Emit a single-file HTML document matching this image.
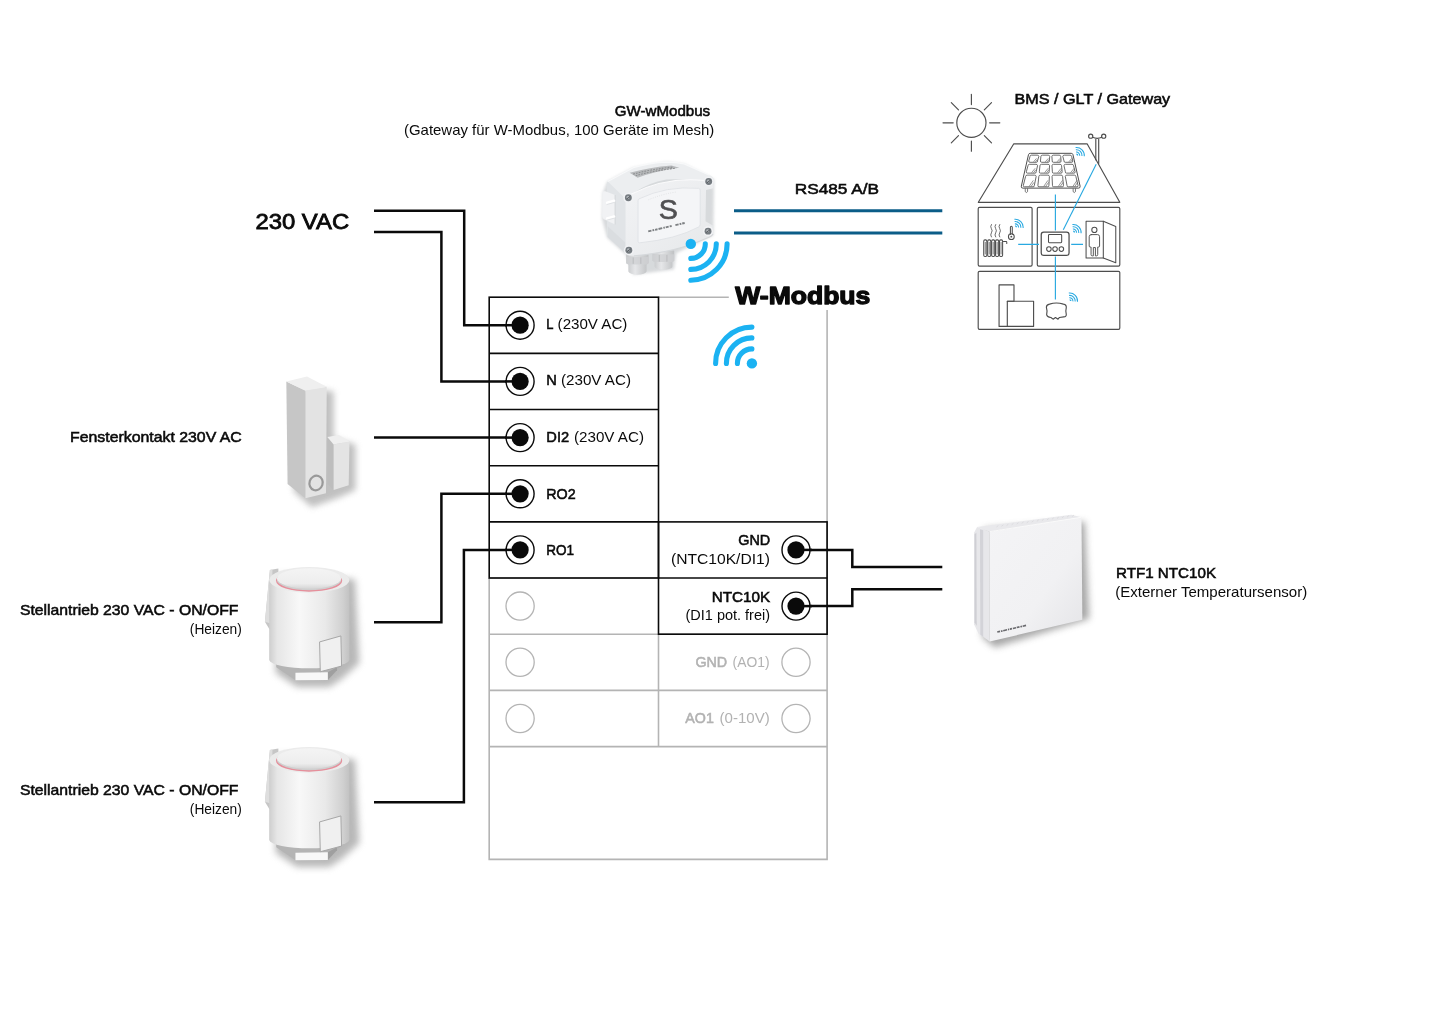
<!DOCTYPE html>
<html lang="de">
<head>
<meta charset="utf-8">
<title>W-Modbus Anschlussplan</title>
<style>
html,body{margin:0;padding:0;background:#fff;}
body{width:1445px;height:1021px;overflow:hidden;}
svg{display:block;will-change:transform;}
text{font-family:"Liberation Sans",sans-serif;fill:#0a0a0a;}
.b{font-weight:normal;stroke:#0a0a0a;stroke-width:0.55px;}
.b.g{stroke:#b2b2b2;}
.g{fill:#b2b2b2;}
</style>
</head>
<body>
<svg width="1445" height="1021" viewBox="0 0 1445 1021">
<defs>
<filter id="sh" x="-30%" y="-30%" width="170%" height="170%"><feGaussianBlur stdDeviation="4"/></filter>
<filter id="sh2" x="-30%" y="-30%" width="170%" height="170%"><feGaussianBlur stdDeviation="2.2"/></filter>
<filter id="shk" x="-40%" y="-40%" width="180%" height="180%"><feGaussianBlur stdDeviation="22"/></filter>
<filter id="sha" x="-40%" y="-40%" width="180%" height="180%"><feGaussianBlur stdDeviation="26"/></filter>
<filter id="shs" x="-40%" y="-40%" width="180%" height="180%"><feGaussianBlur stdDeviation="20"/></filter>
<filter id="shg" x="-40%" y="-40%" width="180%" height="180%"><feGaussianBlur stdDeviation="14"/></filter>
<filter id="bl1" x="-10%" y="-10%" width="120%" height="120%"><feGaussianBlur stdDeviation="0.5"/></filter>
<linearGradient id="cyl" x1="0" y1="0" x2="1" y2="0">
<stop offset="0" stop-color="#cecece"/><stop offset="0.1" stop-color="#e6e6e6"/><stop offset="0.38" stop-color="#f8f8f8"/><stop offset="0.7" stop-color="#e9e9e9"/><stop offset="0.92" stop-color="#d0d0d0"/><stop offset="1" stop-color="#c2c2c2"/>
</linearGradient>
<linearGradient id="cap" x1="0" y1="0" x2="0" y2="1">
<stop offset="0" stop-color="#f4f4f4"/><stop offset="0.75" stop-color="#ededed"/><stop offset="1" stop-color="#d6d6d6"/>
</linearGradient>
<linearGradient id="sface" x1="0" y1="0" x2="1" y2="1">
<stop offset="0" stop-color="#f4f4f6"/><stop offset="0.6" stop-color="#f1f1f3"/><stop offset="1" stop-color="#e4e4e7"/>
</linearGradient>
<linearGradient id="gwface" x1="0" y1="0" x2="1" y2="1">
<stop offset="0" stop-color="#f2f3f5"/><stop offset="1" stop-color="#e6e8ea"/>
</linearGradient>
<linearGradient id="gland" x1="0" y1="0" x2="1" y2="0">
<stop offset="0" stop-color="#c4c6c8"/><stop offset="0.4" stop-color="#e6e7e9"/><stop offset="1" stop-color="#bfc1c3"/>
</linearGradient>
</defs>
<rect width="1445" height="1021" fill="#ffffff"/>

<g fill="none" stroke="#b4b4b4" stroke-width="1.6">
<path d="M658.5 297.2 H728.8"/>
<path d="M827.1 310 V859.4 H489.2 V578.05"/>
<path d="M489.2 634.2 H827.1"/>
<path d="M489.2 690.4 H827.1"/>
<path d="M489.2 746.6 H827.1"/>
<path d="M658.5 690.4 V746.6"/>
<path d="M658.5 634.2 V690.4"/>
<path d="M489.2 578.0 H658.5"/>
</g>
<g fill="#fff" stroke="#b4b4b4" stroke-width="1.3">
<circle cx="520.1" cy="606.1" r="14.1"/>
<circle cx="520.1" cy="662.3" r="14.1"/>
<circle cx="520.1" cy="718.5" r="14.1"/>
<circle cx="796" cy="662.3" r="14.1"/>
<circle cx="796" cy="718.5" r="14.1"/>
</g>
<g fill="none" stroke="#0a0a0a" stroke-width="1.6">
<rect x="489.2" y="297.2" width="169.3" height="280.8"/>
<path d="M489.2 353.4 H658.5"/>
<path d="M489.2 409.5 H658.5"/>
<path d="M489.2 465.7 H658.5"/>
<path d="M489.2 521.9 H658.5"/>
<rect x="658.5" y="521.9" width="168.6" height="112.3"/>
<path d="M658.5 578.0 H827.1"/>
</g>
<g fill="none" stroke="#0a0a0a" stroke-width="2.5" stroke-linejoin="miter">
<path d="M374 210.7 H464.2 V325.2 H520"/>
<path d="M374 232 H441.4 V381.4 H520"/>
<path d="M374 437.6 H520"/>
<path d="M374 622.3 H441.4 V493.8 H520"/>
<path d="M374 802.3 H463.9 V549.9 H520"/>
<path d="M796 549.9 H852.3 V567 H942.3"/>
<path d="M796 606.1 H852.3 V589.2 H942.3"/>
</g>
<circle cx="520.1" cy="325.2" r="14" fill="#fff" stroke="#0a0a0a" stroke-width="1.4"/>
<path d="M505 325.2 H520" stroke="#0a0a0a" stroke-width="2.5"/>
<circle cx="520.1" cy="325.2" r="8.6" fill="#0a0a0a"/>
<circle cx="520.1" cy="381.4" r="14" fill="#fff" stroke="#0a0a0a" stroke-width="1.4"/>
<path d="M505 381.4 H520" stroke="#0a0a0a" stroke-width="2.5"/>
<circle cx="520.1" cy="381.4" r="8.6" fill="#0a0a0a"/>
<circle cx="520.1" cy="437.6" r="14" fill="#fff" stroke="#0a0a0a" stroke-width="1.4"/>
<path d="M505 437.6 H520" stroke="#0a0a0a" stroke-width="2.5"/>
<circle cx="520.1" cy="437.6" r="8.6" fill="#0a0a0a"/>
<circle cx="520.1" cy="493.8" r="14" fill="#fff" stroke="#0a0a0a" stroke-width="1.4"/>
<path d="M505 493.8 H520" stroke="#0a0a0a" stroke-width="2.5"/>
<circle cx="520.1" cy="493.8" r="8.6" fill="#0a0a0a"/>
<circle cx="520.1" cy="549.9" r="14" fill="#fff" stroke="#0a0a0a" stroke-width="1.4"/>
<path d="M505 549.9 H520" stroke="#0a0a0a" stroke-width="2.5"/>
<circle cx="520.1" cy="549.9" r="8.6" fill="#0a0a0a"/>
<circle cx="796" cy="549.9" r="14" fill="#fff" stroke="#0a0a0a" stroke-width="1.4"/>
<path d="M796 549.9 H812" stroke="#0a0a0a" stroke-width="2.5"/>
<circle cx="796" cy="549.9" r="8.6" fill="#0a0a0a"/>
<circle cx="796" cy="606.1" r="14" fill="#fff" stroke="#0a0a0a" stroke-width="1.4"/>
<path d="M796 606.1 H812" stroke="#0a0a0a" stroke-width="2.5"/>
<circle cx="796" cy="606.1" r="8.6" fill="#0a0a0a"/>
<text x="546.3" y="329.2" font-size="15" class="b" textLength="7.2" lengthAdjust="spacingAndGlyphs">L</text>
<text x="557.6" y="329.2" font-size="15" textLength="69.8" lengthAdjust="spacingAndGlyphs">(230V AC)</text>
<text x="546.3" y="385.4" font-size="15" class="b" textLength="10.6" lengthAdjust="spacingAndGlyphs">N</text>
<text x="561" y="385.4" font-size="15" textLength="70" lengthAdjust="spacingAndGlyphs">(230V AC)</text>
<text x="546.3" y="441.6" font-size="15" class="b" textLength="22.8" lengthAdjust="spacingAndGlyphs">DI2</text>
<text x="574" y="441.6" font-size="15" textLength="70" lengthAdjust="spacingAndGlyphs">(230V AC)</text>
<text x="546.3" y="498.8" font-size="15" class="b" textLength="29.4" lengthAdjust="spacingAndGlyphs">RO2</text>
<text x="546.3" y="554.9" font-size="15" class="b" textLength="27.8" lengthAdjust="spacingAndGlyphs">RO1</text>
<text x="770.2" y="544.6" font-size="15" class="b" text-anchor="end" textLength="32" lengthAdjust="spacingAndGlyphs">GND</text>
<text x="770" y="564.2" font-size="15" text-anchor="end" textLength="99" lengthAdjust="spacingAndGlyphs">(NTC10K/DI1)</text>
<text x="770.2" y="601.5" font-size="15" class="b" text-anchor="end" textLength="58.5" lengthAdjust="spacingAndGlyphs">NTC10K</text>
<text x="770" y="620" font-size="15" text-anchor="end" textLength="84.5" lengthAdjust="spacingAndGlyphs">(DI1 pot. frei)</text>
<text x="695.4" y="667.2" font-size="15" class="b g" textLength="31.8" lengthAdjust="spacingAndGlyphs">GND</text>
<text x="732.6" y="667.2" font-size="15" class="g" textLength="37" lengthAdjust="spacingAndGlyphs">(AO1)</text>
<text x="685.3" y="723.2" font-size="15" class="b g" textLength="28.5" lengthAdjust="spacingAndGlyphs">AO1</text>
<text x="719.5" y="723.2" font-size="15" class="g" textLength="50.2" lengthAdjust="spacingAndGlyphs">(0-10V)</text>
<text x="255.4" y="228.7" font-size="21.6" class="b" textLength="93.8" lengthAdjust="spacingAndGlyphs" style="stroke-width:0.8px">230 VAC</text>
<text x="70" y="442" font-size="15" class="b" textLength="171.8" lengthAdjust="spacingAndGlyphs">Fensterkontakt 230V AC</text>
<text x="19.9" y="615.1" font-size="15" class="b" textLength="218.5" lengthAdjust="spacingAndGlyphs">Stellantrieb 230 VAC - ON/OFF</text>
<text x="189.8" y="634.2" font-size="15" textLength="52" lengthAdjust="spacingAndGlyphs">(Heizen)</text>
<text x="19.9" y="795.1" font-size="15" class="b" textLength="218.5" lengthAdjust="spacingAndGlyphs">Stellantrieb 230 VAC - ON/OFF</text>
<text x="189.8" y="814.2" font-size="15" textLength="52" lengthAdjust="spacingAndGlyphs">(Heizen)</text>
<text x="614.7" y="116.3" font-size="15" class="b" textLength="95.5" lengthAdjust="spacingAndGlyphs">GW-wModbus</text>
<text x="404" y="135.3" font-size="15" textLength="310.3" lengthAdjust="spacingAndGlyphs">(Gateway für W-Modbus, 100 Geräte im Mesh)</text>
<text x="794.7" y="194.4" font-size="15" class="b" textLength="84.4" lengthAdjust="spacingAndGlyphs">RS485 A/B</text>
<text x="1014.6" y="104.3" font-size="15" class="b" textLength="155.6" lengthAdjust="spacingAndGlyphs">BMS / GLT / Gateway</text>
<text x="1116" y="577.6" font-size="15" class="b" textLength="100" lengthAdjust="spacingAndGlyphs">RTF1 NTC10K</text>
<text x="1115.2" y="596.5" font-size="15" textLength="192" lengthAdjust="spacingAndGlyphs">(Externer Temperatursensor)</text>
<text x="735.3" y="303.6" font-size="24.2" textLength="135" lengthAdjust="spacingAndGlyphs" style="font-weight:bold;stroke:#0a0a0a;stroke-width:1.3px;stroke-linejoin:round">W-Modbus</text>
<g stroke="#0b5d88" stroke-width="2.9" fill="none"><path d="M734 210.8 H942.3"/><path d="M734 233 H942.3"/></g>
<g transform="translate(260 360) scale(0.15667)">
<g filter="url(#shk)" fill="#9a9a9a" opacity="0.62">
<path d="M215 180 L470 200 L470 500 L610 540 L610 830 L500 880 L330 940 L215 840 Z"/>
</g>
<path d="M168 138 L290 196 L290 882 L176 792 Z" fill="#c6c6c6"/>
<path d="M290 196 L426 170 L421 850 L290 882 Z" fill="#e3e3e3"/>
<path d="M168 138 L300 106 L426 170 L290 196 Z" fill="#efefef"/>
<path d="M430 492 L470 540 L470 830 L430 792 Z" fill="#bdbdbd"/>
<path d="M470 540 L571 520 L566 800 L470 830 Z" fill="#e4e4e4"/>
<path d="M430 492 L505 478 L571 520 L470 540 Z" fill="#efefef"/>
<ellipse cx="358" cy="785" rx="42" ry="47" transform="rotate(18 358 785)" fill="none" stroke="#999" stroke-width="14"/>
</g>
<g transform="translate(250 555) scale(0.14201)">
<g filter="url(#sha)" fill="#8c8c8c" opacity="0.62">
<path d="M200 140 L740 170 L770 760 L650 870 L560 930 L330 930 L180 830 Z"/>
</g>
<path d="M140 105 L200 95 L200 560 L135 520 L105 470 Z" fill="#c6c6c6"/>
<path d="M140 105 L158 100 L152 485 L105 470 Z" fill="#dedede"/>
<path d="M185 760 L660 760 L612 812 L548 880 L320 882 L185 790 Z" fill="#b4b4b4"/>
<path d="M548 826 L612 790 L612 812 L548 880 Z" fill="#9f9f9f"/>
<path d="M320 830 L548 826 L548 880 L320 882 Z" fill="#f8f8f8"/>
<path d="M135 175 A283 90 0 0 1 700 175 L700 740 A283 62 0 0 1 135 740 Z" fill="url(#cyl)"/>
<ellipse cx="418" cy="175" rx="283" ry="90" fill="#ebebeb"/>
<ellipse cx="416" cy="181" rx="233" ry="77" fill="#e68f9b"/>
<ellipse cx="416" cy="174" rx="227" ry="75" fill="#cfcfcf"/>
<ellipse cx="416" cy="165" rx="226" ry="72" fill="url(#cap)"/>
<path d="M490 612 L640 570 L645 782 L495 822 Z" fill="#f0f0f0" stroke="#a6a6a6" stroke-width="7" stroke-linejoin="round"/>
</g>
<g transform="translate(250 735) scale(0.14201)">
<g filter="url(#sha)" fill="#8c8c8c" opacity="0.62">
<path d="M200 140 L740 170 L770 760 L650 870 L560 930 L330 930 L180 830 Z"/>
</g>
<path d="M140 105 L200 95 L200 560 L135 520 L105 470 Z" fill="#c6c6c6"/>
<path d="M140 105 L158 100 L152 485 L105 470 Z" fill="#dedede"/>
<path d="M185 760 L660 760 L612 812 L548 880 L320 882 L185 790 Z" fill="#b4b4b4"/>
<path d="M548 826 L612 790 L612 812 L548 880 Z" fill="#9f9f9f"/>
<path d="M320 830 L548 826 L548 880 L320 882 Z" fill="#f8f8f8"/>
<path d="M135 175 A283 90 0 0 1 700 175 L700 740 A283 62 0 0 1 135 740 Z" fill="url(#cyl)"/>
<ellipse cx="418" cy="175" rx="283" ry="90" fill="#ebebeb"/>
<ellipse cx="416" cy="181" rx="233" ry="77" fill="#e68f9b"/>
<ellipse cx="416" cy="174" rx="227" ry="75" fill="#cfcfcf"/>
<ellipse cx="416" cy="165" rx="226" ry="72" fill="url(#cap)"/>
<path d="M490 612 L640 570 L645 782 L495 822 Z" fill="#f0f0f0" stroke="#a6a6a6" stroke-width="7" stroke-linejoin="round"/>
</g>
<g transform="translate(840 500) scale(0.17992)">
<g filter="url(#shs)" fill="#8a8a8a" opacity="0.75">
<path d="M800 160 L1360 120 L1385 660 L860 820 L790 760 Z"/>
</g>
<path d="M745 182 L762 150 L832 176 L832 787 L770 742 L745 690 Z" fill="#e7e7ea"/>
<path d="M778 162 L796 168 L796 762 L780 748 Z" fill="#d3d3d8"/>
<path d="M748 190 L758 182 L760 700 L748 680 Z" fill="#cfcfd4"/>
<path d="M762 150 L1285 82 L1342 96 L832 176 Z" fill="#e9e9ec"/>
<path d="M832 176 L1342 96 L1347 665 L832 787 Z" fill="url(#sface)"/>
<path d="M832 176 L1342 96" stroke="#fafafa" stroke-width="5" fill="none"/>
<g stroke="#d6d6da" stroke-width="4">
<path d="M870 150 l10 -8"/>
<path d="M898 146 l10 -8"/>
<path d="M926 142 l10 -8"/>
<path d="M954 138 l10 -8"/>
<path d="M982 134 l10 -8"/>
<path d="M1010 130 l10 -8"/>
<path d="M1038 127 l10 -8"/>
<path d="M1066 123 l10 -8"/>
<path d="M1094 119 l10 -8"/>
<path d="M1122 115 l10 -8"/>
<path d="M1150 111 l10 -8"/>
<path d="M1178 107 l10 -8"/>
<path d="M1206 103 l10 -8"/>
<path d="M1234 99 l10 -8"/>
<path d="M1262 95 l10 -8"/>
<path d="M1290 92 l10 -8"/>
</g>
<path d="M874 734 L1034 697" fill="none" stroke="#6a6a6e" stroke-width="9" stroke-dasharray="16 5 9 4 22 5 7 4 12 5 18 4"/>
</g>
<g transform="translate(595 155) scale(0.12732)">
<g filter="url(#shg)" fill="#b8bcc0" opacity="0.55">
<path d="M60 300 L95 210 L300 100 L560 55 L700 70 L935 190 L930 630 L640 770 L620 900 L300 940 L240 780 L95 650 L55 500 Z"/>
</g>
<path d="M245 770 L420 770 L420 850 L405 860 L405 915 A72 28 0 0 1 262 915 L262 860 L245 850 Z" fill="url(#gland)"/>
<path d="M245 800 H420 V850 L405 860 H262 L245 850 Z" fill="#cfd1d3" opacity="0.8"/>
<path d="M300 805 V855 M360 805 V855" stroke="#b4b6b8" stroke-width="6"/>
<path d="M452 750 L622 750 L622 830 L608 840 L608 875 A70 26 0 0 1 468 875 L468 840 L452 830 Z" fill="url(#gland)"/>
<path d="M452 780 H622 V830 L608 840 H468 L452 830 Z" fill="#cfd1d3" opacity="0.8"/>
<path d="M505 785 V838 M565 785 V838" stroke="#b4b6b8" stroke-width="6"/>
<path d="M92 230 Q92 212 110 204 L270 330 L268 770 L240 772 L100 645 Q94 640 94 625 Z" fill="#e1e4e7"/>
<path d="M100 560 L240 690 L240 772 L100 645 Z" fill="#dadde0"/>
<path d="M58 295 Q60 280 80 285 L158 315 L158 545 L70 505 Q56 498 56 480 Z" fill="#f1f2f4"/>
<path d="M158 315 L158 545" stroke="#d3d6d9" stroke-width="8"/>
<path d="M95 375 L150 360 M95 498 L150 483" stroke="#ffffff" stroke-width="20" stroke-linecap="round"/>
<path d="M95 388 L150 373 M95 511 L150 496" stroke="#d4d7da" stroke-width="5" stroke-linecap="round"/>
<path d="M100 208 L300 100 Q430 60 560 55 Q640 55 700 70 L900 158 Q935 175 935 200 L860 215 Q700 185 560 192 Q420 215 300 300 L235 340 Z" fill="#eceef0"/>
<path d="M100 208 L300 100 Q430 60 560 55 Q640 55 700 70 L900 158" fill="none" stroke="#f8f9fa" stroke-width="10"/>
<path d="M272 140 Q430 95 600 82 L662 100 Q480 125 335 178 Z" fill="#b9bbbd"/>
<path d="M300 150 Q440 112 610 95 M320 162 Q450 125 630 104" fill="none" stroke="#8e9092" stroke-width="9" stroke-dasharray="14 9"/>
<path d="M240 345 Q250 320 300 300 Q560 170 860 200 Q930 200 932 240 L930 262 L872 275 L868 520 L928 555 L926 620 Q920 640 880 652 Q640 765 305 792 Q250 795 240 760 Z" fill="url(#gwface)"/>
<path d="M240 345 Q250 320 300 300 Q560 170 860 200" fill="none" stroke="#fbfbfc" stroke-width="8"/>
<path d="M345 345 Q560 240 815 262 Q826 264 826 276 L826 545 Q826 560 812 566 Q640 660 350 690 Q338 690 338 678 L338 360 Q338 350 345 345 Z" fill="#f4f5f7" stroke="#dde0e3" stroke-width="6"/>
<path d="M305 792 Q640 765 880 652 Q920 640 926 620" fill="none" stroke="#d5d8db" stroke-width="10"/>
<circle cx="262" cy="336" r="40" fill="#f1f2f4"/>
<circle cx="262" cy="336" r="27" fill="#757b80"/>
<circle cx="259" cy="333" r="12" fill="#aeb3b7"/>
<path d="M248 346 L276 326" stroke="#4c5155" stroke-width="7"/>
<circle cx="893" cy="208" r="40" fill="#f1f2f4"/>
<circle cx="893" cy="208" r="27" fill="#757b80"/>
<circle cx="890" cy="205" r="12" fill="#aeb3b7"/>
<path d="M879 218 L907 198" stroke="#4c5155" stroke-width="7"/>
<circle cx="888" cy="598" r="40" fill="#f1f2f4"/>
<circle cx="888" cy="598" r="27" fill="#757b80"/>
<circle cx="885" cy="595" r="12" fill="#aeb3b7"/>
<path d="M874 608 L902 588" stroke="#4c5155" stroke-width="7"/>
<circle cx="266" cy="748" r="40" fill="#f1f2f4"/>
<circle cx="266" cy="748" r="27" fill="#757b80"/>
<circle cx="263" cy="745" r="12" fill="#aeb3b7"/>
<path d="M252 758 L280 738" stroke="#4c5155" stroke-width="7"/>
<path d="M420 352 Q530 305 645 290" fill="none" stroke="#cfd2d5" stroke-width="5" stroke-dasharray="6 12"/>
<text x="575" y="503" font-size="222" text-anchor="middle" style="fill:#505052;stroke:#505052;stroke-width:5px" textLength="150" lengthAdjust="spacingAndGlyphs">S</text>
<path d="M418 600 L708 533" fill="none" stroke="#7d8083" stroke-width="15" stroke-dasharray="26 8 14 7 20 8 30 9 12 7 24 8 16 30"/>
</g>
<g transform="translate(690.8 243.9) rotate(0)" fill="none" stroke="#1bb2f2" stroke-width="5.1" stroke-linecap="round">
<circle r="5.2" fill="#1bb2f2" stroke="none"/>
<path d="M14.5 0 A14.5 14.5 0 0 1 0 14.5"/>
<path d="M25.5 0 A25.5 25.5 0 0 1 0 25.5"/>
<path d="M36.3 0 A36.3 36.3 0 0 1 0 36.3"/>
</g>
<g transform="translate(751.9 363.4) rotate(180)" fill="none" stroke="#1bb2f2" stroke-width="5.1" stroke-linecap="round">
<circle r="5.2" fill="#1bb2f2" stroke="none"/>
<path d="M14.5 0 A14.5 14.5 0 0 1 0 14.5"/>
<path d="M25.5 0 A25.5 25.5 0 0 1 0 25.5"/>
<path d="M36.3 0 A36.3 36.3 0 0 1 0 36.3"/>
</g>
<g fill="none" stroke="#4d4d4d" stroke-width="1.15" stroke-linejoin="round" stroke-linecap="round">
<circle cx="971.4" cy="122.8" r="14.6"/>
<path d="M989.6 122.8 L999.8 122.8"/>
<path d="M984.3 135.7 L991.5 142.9"/>
<path d="M971.4 141.0 L971.4 151.2"/>
<path d="M958.5 135.7 L951.3 142.9"/>
<path d="M953.2 122.8 L943.0 122.8"/>
<path d="M958.5 109.9 L951.3 102.7"/>
<path d="M971.4 104.6 L971.4 94.4"/>
<path d="M984.3 109.9 L991.5 102.7"/>
<path d="M1013.8 143.8 H1087.1 L1119.8 202.3 H978.3 Z"/>
<rect x="978.2" y="207.4" width="53.9" height="58.7" rx="1.3"/>
<rect x="1037.3" y="207.4" width="82.5" height="58.7" rx="1.3"/>
<rect x="978.2" y="271.3" width="141.6" height="58" rx="1.3"/>
<path d="M1095.8 159.8 V139.3 M1098.7 163.6 V139.3"/>
<path d="M1092.6 137.3 Q1097.2 139.5 1101.8 137.3"/>
<circle cx="1090.7" cy="136.2" r="2.1"/><circle cx="1103.7" cy="136.2" r="2.1"/>
</g>
<g transform="translate(1010 125) scale(0.08328)">
<g fill="none" stroke="#4d4d4d" stroke-width="12" stroke-linejoin="round">
<path d="M245 340 H735 Q752 340 756 356 L842 735 Q846 758 822 758 H155 Q131 758 136 735 L222 356 Q226 340 245 340 Z"/>
<path d="M183 762 V800 Q197 822 211 800 V762 M758 762 V800 Q772 822 786 800 V762" stroke-width="9"/>
<path d="M258 362 L328 362 Q344 362 346 378 L330 432 Q332 448 316 448 L239 448 Q223 448 225 432 L240 378 Q242 362 258 362 Z" stroke-width="10"/>
<path d="M283 442 L318 401 M306 442 L326 415" stroke-width="7"/>
<path d="M389 362 L459 362 Q475 362 477 378 L472 432 Q474 448 458 448 L380 448 Q364 448 366 432 L371 378 Q373 362 389 362 Z" stroke-width="10"/>
<path d="M424 442 L460 401 M447 442 L468 415" stroke-width="7"/>
<path d="M521 362 L591 362 Q607 362 609 378 L613 432 Q615 448 599 448 L521 448 Q505 448 507 432 L503 378 Q505 362 521 362 Z" stroke-width="10"/>
<path d="M565 442 L601 401 M588 442 L609 415" stroke-width="7"/>
<path d="M652 362 L722 362 Q738 362 740 378 L754 432 Q756 448 740 448 L663 448 Q647 448 649 432 L634 378 Q636 362 652 362 Z" stroke-width="10"/>
<path d="M707 442 L742 401 M730 442 L750 415" stroke-width="7"/>
<path d="M234 472 L313 472 Q329 472 331 488 L314 562 Q316 578 300 578 L210 578 Q194 578 196 562 L216 488 Q218 472 234 472 Z" stroke-width="10"/>
<path d="M260 572 L302 520 M283 572 L310 538" stroke-width="7"/>
<path d="M378 472 L457 472 Q473 472 475 488 L470 562 Q472 578 456 578 L366 578 Q350 578 352 562 L360 488 Q362 472 378 472 Z" stroke-width="10"/>
<path d="M416 572 L458 520 M439 572 L466 538" stroke-width="7"/>
<path d="M522 472 L601 472 Q617 472 619 488 L626 562 Q628 578 612 578 L523 578 Q507 578 509 562 L504 488 Q506 472 522 472 Z" stroke-width="10"/>
<path d="M572 572 L614 520 M595 572 L622 538" stroke-width="7"/>
<path d="M666 472 L745 472 Q761 472 763 488 L782 562 Q784 578 768 578 L679 578 Q663 578 665 562 L648 488 Q650 472 666 472 Z" stroke-width="10"/>
<path d="M728 572 L770 520 M751 572 L778 538" stroke-width="7"/>
<path d="M205 602 L296 602 Q312 602 314 618 L292 726 Q294 742 278 742 L174 742 Q158 742 160 726 L187 618 Q189 602 205 602 Z" stroke-width="10"/>
<path d="M231 736 L280 665 M254 736 L288 689" stroke-width="7"/>
<path d="M364 602 L455 602 Q471 602 473 618 L467 726 Q469 742 453 742 L349 742 Q333 742 335 726 L346 618 Q348 602 364 602 Z" stroke-width="10"/>
<path d="M406 736 L455 665 M429 736 L463 689" stroke-width="7"/>
<path d="M523 602 L614 602 Q630 602 632 618 L642 726 Q644 742 628 742 L524 742 Q508 742 510 726 L505 618 Q507 602 523 602 Z" stroke-width="10"/>
<path d="M581 736 L630 665 M604 736 L638 689" stroke-width="7"/>
<path d="M682 602 L773 602 Q789 602 791 618 L817 726 Q819 742 803 742 L699 742 Q683 742 685 726 L664 618 Q666 602 682 602 Z" stroke-width="10"/>
<path d="M756 736 L805 665 M779 736 L813 689" stroke-width="7"/>
</g>
</g>
<g transform="translate(1076.4 155.4)" fill="none" stroke="#29a9e1" stroke-width="1.05">
<path d="M0 -1.2 A1.2 1.2 0 0 1 1.2 0" stroke-width="1.3"/>
<path d="M-0.33 -3.30 A3.3 3.3 0 0 1 3.30 0.33"/>
<path d="M-0.56 -5.60 A5.6 5.6 0 0 1 5.60 0.56"/>
<path d="M-0.79 -7.90 A7.9 7.9 0 0 1 7.90 0.79"/>
</g>
<g transform="translate(1015.2 227.2)" fill="none" stroke="#29a9e1" stroke-width="1.05">
<path d="M0 -1.2 A1.2 1.2 0 0 1 1.2 0" stroke-width="1.3"/>
<path d="M-0.33 -3.30 A3.3 3.3 0 0 1 3.30 0.33"/>
<path d="M-0.56 -5.60 A5.6 5.6 0 0 1 5.60 0.56"/>
<path d="M-0.79 -7.90 A7.9 7.9 0 0 1 7.90 0.79"/>
</g>
<g transform="translate(1073.2 232.4)" fill="none" stroke="#29a9e1" stroke-width="1.05">
<path d="M0 -1.2 A1.2 1.2 0 0 1 1.2 0" stroke-width="1.3"/>
<path d="M-0.33 -3.30 A3.3 3.3 0 0 1 3.30 0.33"/>
<path d="M-0.56 -5.60 A5.6 5.6 0 0 1 5.60 0.56"/>
<path d="M-0.79 -7.90 A7.9 7.9 0 0 1 7.90 0.79"/>
</g>
<g transform="translate(1069.6 301.0)" fill="none" stroke="#29a9e1" stroke-width="1.05">
<path d="M0 -1.2 A1.2 1.2 0 0 1 1.2 0" stroke-width="1.3"/>
<path d="M-0.33 -3.30 A3.3 3.3 0 0 1 3.30 0.33"/>
<path d="M-0.56 -5.60 A5.6 5.6 0 0 1 5.60 0.56"/>
<path d="M-0.79 -7.90 A7.9 7.9 0 0 1 7.90 0.79"/>
</g>
<g fill="none" stroke="#29a9e1" stroke-width="1.15">
<path d="M1055.4 194.6 V230.6 M1055.4 256.5 V299.4"/>
<path d="M1096.2 164.3 L1063.3 229.8"/>
<path d="M1018.2 244.3 H1039 M1071.2 244.3 H1083"/>
</g>
<g transform="translate(975 205) scale(0.10381)">
<g fill="none" stroke="#4d4d4d" stroke-width="10" stroke-linejoin="round" stroke-linecap="round">
<rect x="84" y="336" width="30" height="160" rx="12"/>
<path d="M99 360 V472" stroke-width="7"/>
<rect x="122" y="336" width="30" height="160" rx="12"/>
<path d="M137 360 V472" stroke-width="7"/>
<rect x="160" y="336" width="30" height="160" rx="12"/>
<path d="M175 360 V472" stroke-width="7"/>
<rect x="198" y="336" width="30" height="160" rx="12"/>
<path d="M213 360 V472" stroke-width="7"/>
<rect x="236" y="336" width="30" height="160" rx="12"/>
<path d="M251 360 V472" stroke-width="7"/>
<path d="M274 352 H300 Q306 352 306 360 V370"/>
<path d="M158 188 q-14 20 0 40 q14 20 0 40 q-14 20 0 40" stroke-width="8"/>
<path d="M199 188 q-14 20 0 40 q14 20 0 40 q-14 20 0 40" stroke-width="8"/>
<path d="M238 188 q-14 20 0 40 q14 20 0 40 q-14 20 0 40" stroke-width="8"/>
<path d="M341 285 V215 Q341 205 350 205 Q359 205 359 215 V285"/>
<circle cx="350" cy="305" r="28"/>
<circle cx="350" cy="305" r="9" fill="#4d4d4d" stroke="none"/>
<rect x="638" y="262" width="268" height="224" rx="24" stroke-width="12"/>
<rect x="708" y="285" width="127" height="78" rx="8"/>
<circle cx="712" cy="425" r="22"/><circle cx="771" cy="425" r="22"/><circle cx="832" cy="425" r="22"/>
<rect x="1070" y="157" width="166" height="353"/>
<path d="M1236 157 L1356 207 V556 L1236 510"/>
<circle cx="1150" cy="240" r="25"/>
<path d="M1120 285 H1180 Q1200 285 1200 305 V395 Q1200 405 1190 405 H1182 V478 Q1182 490 1170 490 H1160 V410 H1140 V490 H1130 Q1118 490 1118 478 V405 H1110 Q1100 405 1100 395 V305 Q1100 285 1120 285 Z" stroke-width="9"/>
</g>
</g>
<g transform="translate(960 195) scale(0.14207)">
<g fill="none" stroke="#4d4d4d" stroke-width="8" stroke-linejoin="round" stroke-linecap="round">
<path d="M333 748 H380 V633 H275 V925 H333"/>
<rect x="333" y="748" width="185" height="177"/>
<path d="M630 768 Q678 752 728 768 Q750 772 748 792 Q742 815 748 840 Q750 856 730 858 L700 862 L690 874 L672 862 L655 874 L640 862 Q612 858 610 842 Q616 815 608 790 Q608 772 630 768 Z"/>
</g>
</g>
<!--DEVICES4-->
</svg>
</body>
</html>
